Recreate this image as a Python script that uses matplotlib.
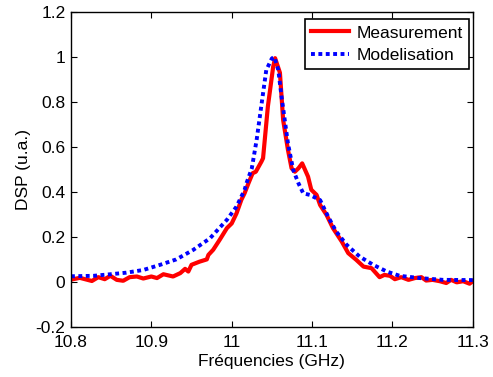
import numpy as np
import matplotlib
matplotlib.use('Agg')
import matplotlib.pyplot as plt

plt.rcParams['font.family'] = ['Liberation Sans', 'DejaVu Sans']

meas_f = [10.800, 10.811, 10.826, 10.834, 10.842, 10.849, 10.857, 10.865, 10.873,
          10.882, 10.890, 10.900, 10.907, 10.915, 10.927, 10.936, 10.942, 10.946,
          10.950, 10.960, 10.969, 10.971, 10.977, 10.985, 10.994, 11.000, 11.006,
          11.012, 11.016, 11.021, 11.026, 11.030, 11.037, 11.039, 11.045, 11.0516,
          11.054, 11.060, 11.064, 11.070, 11.0745, 11.0786, 11.083, 11.0877, 11.095,
          11.099, 11.1056, 11.110, 11.118, 11.126, 11.137, 11.145, 11.155, 11.164,
          11.174, 11.184, 11.190, 11.197, 11.203, 11.211, 11.220, 11.228, 11.236,
          11.242, 11.250, 11.259, 11.267, 11.273, 11.280, 11.288, 11.296, 11.300]
meas_v = [0.010, 0.018, 0.004, 0.021, 0.012, 0.027, 0.009, 0.005, 0.021,
          0.024, 0.015, 0.024, 0.017, 0.034, 0.024, 0.039, 0.058, 0.046,
          0.076, 0.090, 0.100, 0.120, 0.143, 0.187, 0.239, 0.260, 0.305,
          0.365, 0.394, 0.440, 0.483, 0.490, 0.535, 0.550, 0.780, 0.957,
          0.995, 0.930, 0.720, 0.587, 0.505, 0.490, 0.505, 0.527, 0.468,
          0.410, 0.387, 0.342, 0.298, 0.239, 0.179, 0.128, 0.098, 0.068,
          0.061, 0.021, 0.031, 0.027, 0.012, 0.021, 0.009, 0.017, 0.021,
          0.006, 0.009, 0.003, -0.005, 0.009, -0.002, 0.003, -0.008, 0.003]

# model
model_f = [10.800, 10.828, 10.849, 10.869, 10.890, 10.911, 10.931, 10.952, 10.973,
           10.994, 11.006, 11.016, 11.0185, 11.025, 11.031, 11.035, 11.039, 11.043,
           11.050, 11.053, 11.058, 11.062, 11.066, 11.070, 11.0765, 11.083, 11.089,
           11.097, 11.110, 11.120, 11.130, 11.143, 11.159, 11.176, 11.193, 11.209,
           11.234, 11.263, 11.300]
model_v = [0.025, 0.027, 0.034, 0.041, 0.053, 0.076, 0.100, 0.142, 0.194,
           0.276, 0.335, 0.409, 0.440, 0.505, 0.631, 0.735, 0.839, 0.942,
           0.994, 1.000, 0.942, 0.824, 0.720, 0.616, 0.498, 0.439, 0.394,
           0.387, 0.364, 0.290, 0.224, 0.165, 0.113, 0.076, 0.046, 0.027,
           0.017, 0.009, 0.008]

xticks = [10.8, 10.9, 11.0, 11.1, 11.2, 11.3]
xticklabels = ['10.8', '10.9', '11', '11.1', '11.2', '11.3']
yticks = [-0.2, 0, 0.2, 0.4, 0.6, 0.8, 1.0, 1.2]
yticklabels = ['-0.2', '0', '0.2', '0.4', '0.6', '0.8', '1', '1.2']

fs = 12.5

fig = plt.figure(figsize=(4.93, 3.77), dpi=100)
ax = fig.add_axes([0.144, 0.133, 0.815, 0.835])

ax.plot(meas_f, meas_v, color='red', lw=3, label='Measurement')
ax.plot(model_f, model_v, color='blue', lw=2.8, linestyle=(0, (1, 0.9)),
        label='Modelisation')

ax.set_xlim(10.8, 11.3)
ax.set_ylim(-0.2, 1.2)
ax.set_xticks(xticks)
ax.set_xticklabels(xticklabels)
ax.set_yticks(yticks)
ax.set_yticklabels(yticklabels)
ax.tick_params(direction='in', top=True, right=True, length=4, labelsize=fs)
ax.tick_params(axis='x', pad=6)
ax.tick_params(axis='y', pad=4)
for s in ax.spines.values():
    s.set_linewidth(1.0)

ax.set_xlabel('Fréquencies (GHz)', fontsize=fs, labelpad=3)
ax.set_ylabel('DSP (u.a.)', fontsize=fs, labelpad=3)

leg = ax.legend(loc='upper right', bbox_to_anchor=(0.99, 0.977), fontsize=fs,
                fancybox=False, framealpha=1, edgecolor='black',
                borderaxespad=0, handlelength=2.2, handletextpad=0.4,
                borderpad=0.35, labelspacing=0.4)
leg.get_frame().set_linewidth(1.2)

fig.savefig('out.png', dpi=100)
